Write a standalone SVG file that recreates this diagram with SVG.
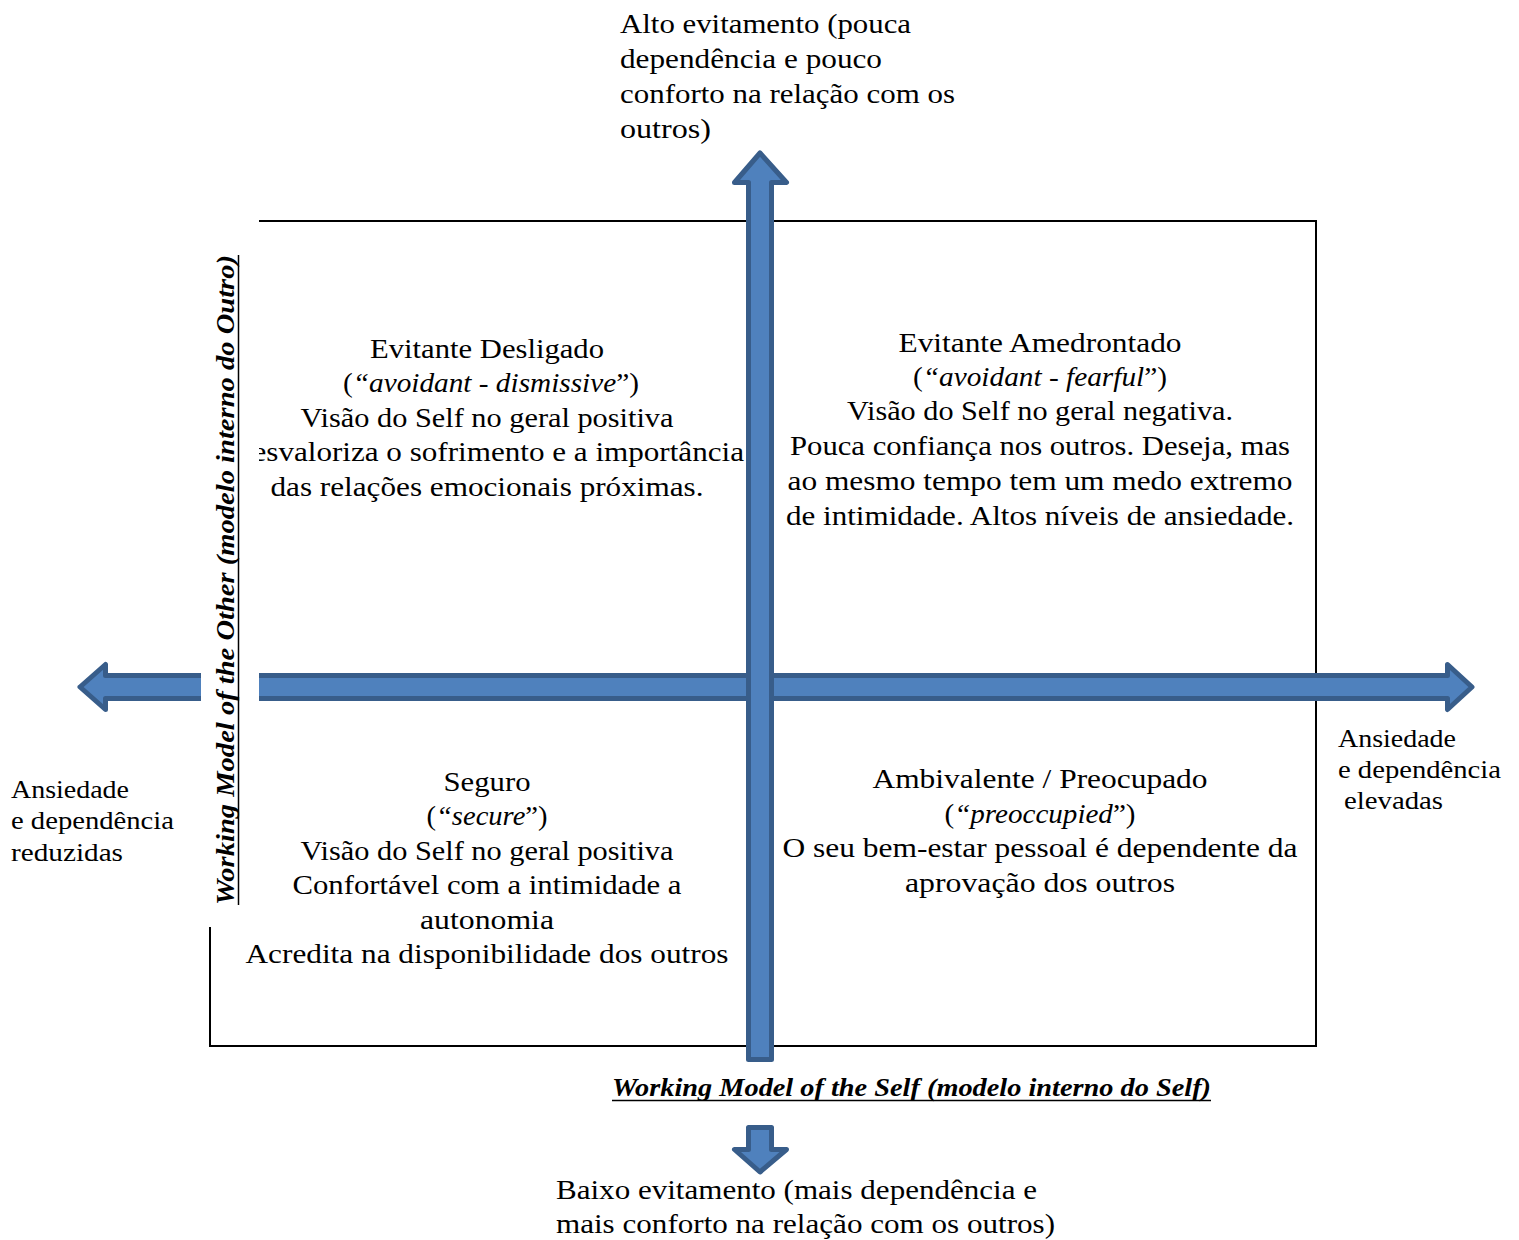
<svg xmlns="http://www.w3.org/2000/svg" width="1519" height="1240" viewBox="0 0 1519 1240">
<style>
text { font-family: "Liberation Serif", "DejaVu Serif", serif; fill: #000; }
.q { font-size: 28px; text-anchor: middle; }
.lbl { font-size: 28px; }
.side { font-size: 25px; }
.axis { font-size: 25px; font-weight: bold; font-style: italic; }
.uline { stroke: #000; stroke-width: 1.5; }
.it { font-style: italic; }
.arrow { fill: #4F81BD; stroke: #385D8A; stroke-width: 5; stroke-linejoin: round; }
.frame { fill: none; stroke: #000; stroke-width: 2; }
</style>
<rect id="frame" class="frame" x="210" y="221" width="1106" height="825"/>
<g id="connectors">
  <polygon id="axis-horizontal" class="arrow" points="80,687 105.5,664.5 105.5,675.5 1447.5,675.5 1447.5,664.5 1472,687 1447.5,709.5 1447.5,698.5 105.5,698.5 105.5,709.5"/>
  <polygon id="axis-vertical-up" class="arrow" points="760,153 786.5,182.5 771.5,182.5 771.5,1059.5 748.5,1059.5 748.5,182.5 734.5,182.5"/>
  <polygon id="axis-vertical-down" class="arrow" points="748.5,1127.5 771.5,1127.5 771.5,1149.5 786.5,1149.5 760,1172 734.5,1149.5 748.5,1149.5"/>
</g>
<g id="top-label">
  <text class="lbl" x="620" y="33" textLength="291" lengthAdjust="spacingAndGlyphs">Alto evitamento (pouca</text>
  <text class="lbl" x="620" y="68" textLength="262" lengthAdjust="spacingAndGlyphs">dependência e pouco</text>
  <text class="lbl" x="620" y="103" textLength="335" lengthAdjust="spacingAndGlyphs">conforto na relação com os</text>
  <text class="lbl" x="620" y="138" textLength="91" lengthAdjust="spacingAndGlyphs">outros)</text>
</g>
<g id="bottom-label">
  <text class="lbl" x="556" y="1199" textLength="481" lengthAdjust="spacingAndGlyphs">Baixo evitamento (mais dependência e</text>
  <text class="lbl" x="556" y="1233" textLength="499" lengthAdjust="spacingAndGlyphs">mais conforto na relação com os outros)</text>
</g>
<g id="left-label">
  <text class="side" x="11" y="798" textLength="118" lengthAdjust="spacingAndGlyphs">Ansiedade</text>
  <text class="side" x="11" y="829" textLength="163" lengthAdjust="spacingAndGlyphs">e dependência</text>
  <text class="side" x="11" y="861" textLength="112" lengthAdjust="spacingAndGlyphs">reduzidas</text>
</g>
<g id="right-label">
  <text class="side" x="1338" y="747" textLength="118" lengthAdjust="spacingAndGlyphs">Ansiedade</text>
  <text class="side" x="1338" y="778" textLength="163" lengthAdjust="spacingAndGlyphs">e dependência</text>
  <text class="side" x="1344" y="809" textLength="99" lengthAdjust="spacingAndGlyphs">elevadas</text>
</g>
<g id="quadrant-dismissive">
  <text class="q" x="487" y="358" textLength="234" lengthAdjust="spacingAndGlyphs">Evitante Desligado</text>
  <text class="q" x="491" y="392" textLength="296" lengthAdjust="spacingAndGlyphs">(<tspan class="it">“avoidant - dismissive</tspan>”)</text>
  <text class="q" x="487" y="427" textLength="373" lengthAdjust="spacingAndGlyphs">Visão do Self no geral positiva</text>
  <text class="q" x="487" y="461" textLength="514" lengthAdjust="spacingAndGlyphs">Desvaloriza o sofrimento e a importância</text>
  <text class="q" x="487" y="496" textLength="433" lengthAdjust="spacingAndGlyphs">das relações emocionais próximas.</text>
</g>
<g id="quadrant-fearful">
  <text class="q" x="1040" y="352" textLength="283" lengthAdjust="spacingAndGlyphs">Evitante Amedrontado</text>
  <text class="q" x="1040" y="386" textLength="254" lengthAdjust="spacingAndGlyphs">(<tspan class="it">“avoidant - fearful</tspan>”)</text>
  <text class="q" x="1040" y="420" textLength="386" lengthAdjust="spacingAndGlyphs">Visão do Self no geral negativa.</text>
  <text class="q" x="1040" y="455" textLength="500" lengthAdjust="spacingAndGlyphs">Pouca confiança nos outros. Deseja, mas</text>
  <text class="q" x="1040" y="490" textLength="505" lengthAdjust="spacingAndGlyphs">ao mesmo tempo tem um medo extremo</text>
  <text class="q" x="1040" y="525" textLength="508" lengthAdjust="spacingAndGlyphs">de intimidade. Altos níveis de ansiedade.</text>
</g>
<g id="quadrant-secure">
  <text class="q" x="487" y="791" textLength="87" lengthAdjust="spacingAndGlyphs">Seguro</text>
  <text class="q" x="487" y="825" textLength="121" lengthAdjust="spacingAndGlyphs">(<tspan class="it">“secure</tspan>”)</text>
  <text class="q" x="487" y="860" textLength="373" lengthAdjust="spacingAndGlyphs">Visão do Self no geral positiva</text>
  <text class="q" x="487" y="894" textLength="389" lengthAdjust="spacingAndGlyphs">Confortável com a intimidade a</text>
  <text class="q" x="487" y="929" textLength="134" lengthAdjust="spacingAndGlyphs">autonomia</text>
  <text class="q" x="487" y="963" textLength="483" lengthAdjust="spacingAndGlyphs">Acredita na disponibilidade dos outros</text>
</g>
<g id="quadrant-preoccupied">
  <text class="q" x="1040" y="788" textLength="335" lengthAdjust="spacingAndGlyphs">Ambivalente / Preocupado</text>
  <text class="q" x="1040" y="823" textLength="191" lengthAdjust="spacingAndGlyphs">(<tspan class="it">“preoccupied</tspan>”)</text>
  <text class="q" x="1040" y="857" textLength="515" lengthAdjust="spacingAndGlyphs">O seu bem-estar pessoal é dependente da</text>
  <text class="q" x="1040" y="892" textLength="270" lengthAdjust="spacingAndGlyphs">aprovação dos outros</text>
</g>
<g id="axis-self-label">
  <text class="axis" x="612" y="1096" textLength="599" lengthAdjust="spacingAndGlyphs">Working Model of the Self (modelo interno do Self)</text>
  <line class="uline" x1="612" y1="1100.5" x2="1211" y2="1100.5"/>
</g>
<g id="axis-other-label">
  <rect x="201" y="200" width="58" height="727" fill="#fff"/>
  <text class="axis" transform="translate(234,580) rotate(-90)" x="0" y="0" text-anchor="middle" textLength="650" lengthAdjust="spacingAndGlyphs">Working Model of the Other (modelo interno do Outro)</text>
  <line class="uline" x1="238.5" y1="255" x2="238.5" y2="905"/>
</g>
</svg>
